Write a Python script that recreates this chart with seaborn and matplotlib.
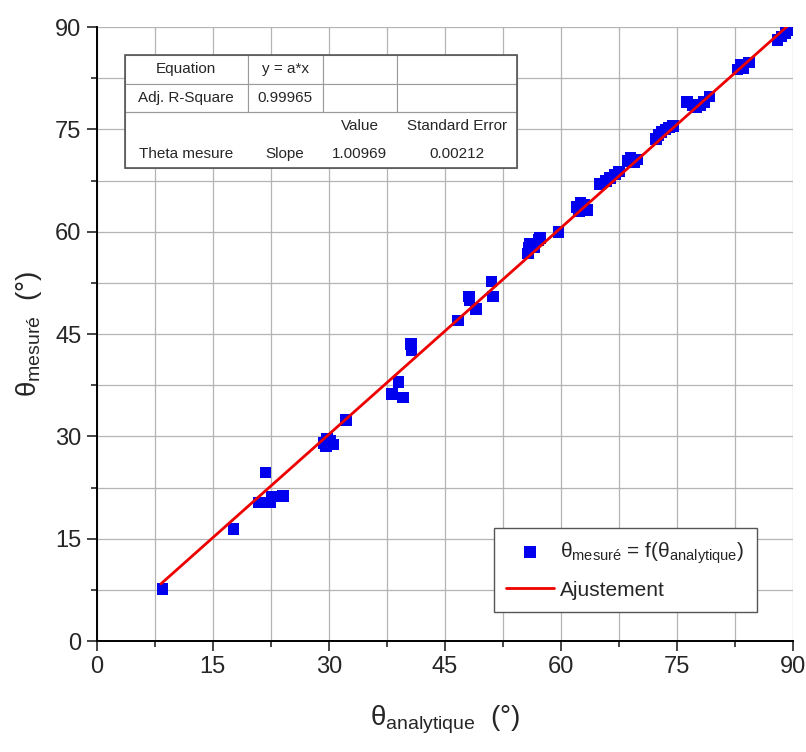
import numpy as np
import pandas as pd
import seaborn as sns
import matplotlib.pyplot as plt
from matplotlib.ticker import MultipleLocator
from matplotlib.patches import Rectangle

# Données
theta_analytique = [8.5, 17.7, 20.9, 21.8, 22.4, 22.6, 24.1,
                    29.3, 29.6, 29.8, 30.2, 30.5, 32.2,
                    38.2, 39.0, 39.6, 40.6, 40.7, 46.7,
                    48.1, 48.2, 49.0, 51.0, 51.2,
                    55.7, 55.8, 56.0, 56.5, 57.1, 57.3, 59.7,
                    62.0, 62.3, 62.5, 63.0, 63.4,
                    65.0, 65.8, 66.3, 67.0, 67.5,
                    68.6, 69.0, 69.5, 69.8,
                    72.3, 72.6, 73.0, 73.5, 74.0, 74.5,
                    76.3, 77.0, 77.5, 78.0, 78.5, 79.2,
                    82.8, 83.2, 83.6, 84.3,
                    88.0, 88.5, 89.0, 89.4]
theta_mesure = [7.6, 16.4, 20.3, 24.7, 20.3, 21.2, 21.3,
                29.0, 28.5, 29.6, 29.4, 28.8, 32.4,
                36.2, 38.0, 35.7, 43.5, 42.6, 47.0,
                50.5, 50.0, 48.7, 52.7, 50.5,
                56.8, 57.6, 58.2, 57.8, 58.8, 59.1, 60.0,
                63.6, 63.0, 64.2, 64.0, 63.2,
                67.0, 67.4, 67.9, 68.4, 68.8,
                70.4, 70.8, 70.2, 70.6,
                73.6, 74.2, 74.6, 75.0, 75.3, 75.5,
                79.0, 78.6, 78.2, 78.5, 79.0, 79.8,
                83.8, 84.4, 84.0, 84.8,
                88.1, 88.6, 89.1, 89.5]

# Ajustement y = a*x
pente = 1.00969
erreur_std = 0.00212
r2_ajuste = 0.99965
ajust_x = [8.3, 89.3]

tableau = [['Equation', 'y = a*x', '', ''],
           ['Adj. R-Square', f'{r2_ajuste:.5f}', '', ''],
           ['', '', 'Value', 'Standard Error'],
           ['Theta mesure', 'Slope', f'{pente:.5f}', f'{erreur_std:.5f}']]

df = pd.DataFrame({'x': theta_analytique, 'y': theta_mesure})
df_fit = pd.DataFrame({'x': ajust_x, 'y': [pente * v for v in ajust_x]})

sns.set_style('white')
plt.rcParams['font.family'] = ['Liberation Sans', 'DejaVu Sans']
plt.rcParams['mathtext.fontset'] = 'custom'
plt.rcParams['mathtext.rm'] = 'Liberation Sans'
plt.rcParams['mathtext.it'] = 'Liberation Sans:italic'

fig = plt.figure(figsize=(8.06, 7.52), dpi=100)
ax = fig.add_axes([0.120, 0.1476, 0.864, 0.8164])

sns.scatterplot(data=df, x='x', y='y', marker='s', s=70, color='#0000ee',
                edgecolor='none', ax=ax, zorder=3,
                label=r'θ$_{\mathrm{mesuré}}$ = f(θ$_{\mathrm{analytique}}$)')
sns.lineplot(data=df_fit, x='x', y='y', color='#ee0000', linewidth=2,
             ax=ax, zorder=4, label='Ajustement')

ax.set_xlim(0, 90)
ax.set_ylim(0, 90)
ax.xaxis.set_major_locator(MultipleLocator(15))
ax.yaxis.set_major_locator(MultipleLocator(15))
ax.xaxis.set_minor_locator(MultipleLocator(7.5))
ax.yaxis.set_minor_locator(MultipleLocator(7.5))
ax.grid(True, which='both', color='#b4b4b4', linewidth=0.9)
ax.set_axisbelow(True)
for s in ['top', 'right']:
    ax.spines[s].set_visible(False)
for s in ['left', 'bottom']:
    ax.spines[s].set_color('black')
    ax.spines[s].set_linewidth(1.4)
ax.tick_params(which='major', direction='out', length=7, width=1.2,
               labelsize=17, bottom=True, left=True, pad=4)
ax.tick_params(which='minor', direction='out', length=4, width=1.2,
               bottom=True, left=True)

ax.set_xlabel(r'θ$_{\mathrm{analytique}}$  (°)', fontsize=20, labelpad=18)
ax.set_ylabel(r'θ$_{\mathrm{mesuré}}$  (°)', fontsize=20, labelpad=8)

leg = ax.legend(loc='lower right', bbox_to_anchor=(0.948, 0.047),
                fontsize=15, frameon=True, fancybox=False, handlelength=2.3,
                handletextpad=0.3, borderpad=0.6, labelspacing=0.7,
                borderaxespad=0, framealpha=1)
leg.get_frame().set_edgecolor('#555555')
leg.get_frame().set_linewidth(1.0)

# Tableau des résultats
ax.add_patch(Rectangle((0.040, 0.770), 0.563, 0.184, transform=ax.transAxes,
                       facecolor='white', edgecolor='none', zorder=4.9))
tab = ax.table(cellText=tableau, cellLoc='center',
               colWidths=[0.314, 0.191, 0.189, 0.306],
               bbox=[0.040, 0.770, 0.563, 0.184], zorder=5)
tab.auto_set_font_size(False)
tab.set_fontsize(11)
bords = {2: ['TL', 'T', 'T', 'TR'], 3: ['BL', 'B', 'B', 'BR']}
for (r, c), cell in tab.get_celld().items():
    cell.set_edgecolor('#9a9a9a')
    cell.set_linewidth(0.8)
    cell.set_facecolor('white')
    if r in bords:
        cell.visible_edges = bords[r][c]
        cell.set_facecolor('none')
ax.add_patch(Rectangle((0.040, 0.770), 0.563, 0.184, transform=ax.transAxes,
                       fill=False, edgecolor='#555555', linewidth=1.2, zorder=6))

fig.savefig('out.png', dpi=100)
